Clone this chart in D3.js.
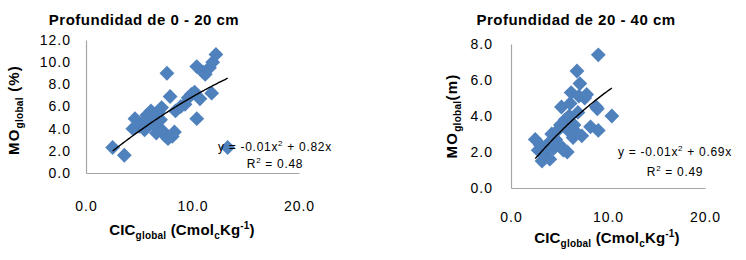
<!DOCTYPE html>
<html>
<head>
<meta charset="utf-8">
<script src="https://cdn.jsdelivr.net/npm/d3@7"></script>
<style>
  body { margin: 0; background: #fff; }
  svg { display: block; font-family: "Liberation Sans", Arial, sans-serif; }
</style>
</head>
<body>
<div id="chart"></div>
<script>
// data
var xTicks = [0, 10, 20];
var xTickLabels = ["0.0", "10.0", "20.0"];

// Profundidad de 0 - 20 cm
var cic0_20 = [2.5, 3.6, 4.4, 4.6, 5.0, 5.2, 5.5, 5.7, 5.9, 6.1, 6.3, 6.5, 6.6, 6.8, 7.0, 7.1, 7.2, 7.4, 7.6, 7.7,
               7.9, 8.1, 8.3, 8.4, 8.9, 9.3, 9.6, 9.9, 10.2, 10.4, 10.4, 10.7, 11.0, 11.2, 11.6, 11.8, 11.9, 12.2, 13.3];
var mo0_20  = [2.3, 1.6, 4.0, 4.9, 4.2, 4.4, 3.9, 5.2, 4.5, 5.6, 5.0, 4.2, 3.6, 5.5, 4.8, 5.9, 3.8, 3.4, 9.0, 3.1,
               6.9, 3.3, 3.7, 5.6, 6.0, 6.2, 6.8, 7.1, 7.3, 9.6, 4.9, 6.7, 9.1, 8.9, 9.5, 7.2, 10.0, 10.7, 2.3];
var yTicks0_20 = [0, 2, 4, 6, 8, 10, 12];
var trend0_20 = [-0.0134, 0.82, 0.015];   // a, b, c of the polynomial trendline

// Profundidad de 20 - 40 cm
var cic20_40 = [2.5, 2.8, 3.0, 3.2, 3.4, 3.6, 3.9, 4.0, 4.2, 4.4, 4.6, 4.8, 5.0, 5.1, 5.2, 5.4, 5.6, 5.8, 5.9, 6.0,
                6.1, 6.2, 6.4, 6.5, 6.7, 6.8, 6.9, 7.0, 7.1, 7.3, 7.6, 7.8, 8.2, 8.8, 8.9, 9.0, 9.0, 10.4];
var mo20_40  = [2.7, 2.1, 2.4, 1.5, 2.0, 1.8, 2.5, 1.6, 3.0, 2.2, 2.7, 3.2, 2.4, 3.5, 4.5, 2.1, 3.8, 2.0, 3.2, 4.0,
                4.7, 5.3, 2.8, 3.5, 3.1, 6.5, 4.2, 5.1, 5.8, 2.9, 5.0, 5.2, 3.4, 4.5, 4.4, 7.4, 3.2, 4.0];
var yTicks20_40 = [0, 2, 4, 6, 8];
var trend20_40 = [-0.015, 0.69, 0.0];

var panels = [
  { title: "Profundidad de 0 - 20 cm", cic: cic0_20, mo: mo0_20, yTicks: yTicks0_20, yMax: 12, trend: trend0_20,
    yUnit: " (%)", eq: ["-0.01x", "2", " + 0.82x"], r2: "0.48",
    xr: [86, 299], yr: [173, 40], titleX: 144, yTitleX: 19, yTitleY: 110, xTitleX: 182, xTitleY: 235,
    xPad: 28, yPad: 15, eqX: 275, eqY: 151, r2Y: 168 },
  { title: "Profundidad de 20 - 40 cm", cic: cic20_40, mo: mo20_40, yTicks: yTicks20_40, yMax: 8, trend: trend20_40,
    yUnit: "(m)", eq: ["-0.01x", "2", " + 0.69x"], r2: "0.49",
    xr: [511, 705], yr: [188, 44], titleX: 576, yTitleX: 457, yTitleY: 116, xTitleX: 607, xTitleY: 243,
    xPad: 24, yPad: 18, eqX: 675, eqY: 156, r2Y: 176 }
];

var svg = d3.select("#chart").append("svg")
    .attr("width", 746)
    .attr("height", 260);

panels.forEach(function(p) {
  var g = svg.append("g");
  var x = d3.scaleLinear().domain([0, 20]).range(p.xr);
  var y = d3.scaleLinear().domain([0, p.yMax]).range(p.yr);

  // title
  g.append("text")
      .attr("x", p.titleX).attr("y", 25)
      .attr("text-anchor", "middle")
      .style("font-size", "15px").style("font-weight", "bold").style("letter-spacing", "0.5px")
      .text(p.title);

  // axes
  var xAxis = g.append("g")
      .attr("transform", "translate(0," + p.yr[0] + ")")
      .call(d3.axisBottom(x).tickValues(xTicks).tickSize(0).tickPadding(p.xPad)
            .tickFormat(function(d, i) { return xTickLabels[i]; }));
  var yAxis = g.append("g")
      .attr("transform", "translate(" + p.xr[0] + ",0)")
      .call(d3.axisLeft(y).tickValues(p.yTicks).tickSize(0).tickPadding(p.yPad)
            .tickFormat(d3.format(".1f")));
  [xAxis, yAxis].forEach(function(a) {
    a.select(".domain").attr("stroke", "#a6a6a6").attr("stroke-width", 1.2);
    a.selectAll("text")
        .attr("fill", "#000")
        .style("font-family", "'Liberation Sans', Arial, sans-serif")
        .style("font-size", "14px").style("letter-spacing", "1px");
  });

  // points
  var pts = p.cic.map(function(c, i) { return [c, p.mo[i]]; });
  g.selectAll("path.pt")
    .data(pts)
    .enter()
      .append("path")
      .attr("class", "pt")
      .attr("d", d3.symbol(d3.symbolSquare, 110))
      .attr("transform", function(d) {
        return "translate(" + x(d[0]) + "," + y(d[1]) + ") rotate(45)";
      })
      .attr("fill", "#4f81bd");

  // trendline over the range of the points
  var co = p.trend;
  var ext = d3.extent(p.cic);
  var line = d3.line()
      .x(function(d) { return x(d); })
      .y(function(d) { return y(co[0] * d * d + co[1] * d + co[2]); });
  g.append("path")
      .datum(d3.range(ext[0], ext[1] + 0.001, 0.1))
      .attr("d", line)
      .attr("fill", "none")
      .attr("stroke", "#000")
      .attr("stroke-width", 1.4);

  // equation
  var eq = g.append("text")
      .attr("x", p.eqX).attr("y", p.eqY)
      .attr("text-anchor", "middle")
      .style("font-size", "12px").style("letter-spacing", "0.7px");
  eq.append("tspan").text("y = " + p.eq[0]);
  eq.append("tspan").attr("dy", -5).style("font-size", "8px").text(p.eq[1]);
  eq.append("tspan").attr("dy", 5).text(p.eq[2]);
  var r2 = g.append("text")
      .attr("x", p.eqX).attr("y", p.r2Y)
      .attr("text-anchor", "middle")
      .style("font-size", "12px").style("letter-spacing", "0.7px");
  r2.append("tspan").text("R");
  r2.append("tspan").attr("dy", -5).style("font-size", "8px").text("2");
  r2.append("tspan").attr("dy", 5).text(" = " + p.r2);

  // y title
  var yt = g.append("text")
      .attr("transform", "translate(" + p.yTitleX + "," + p.yTitleY + ") rotate(-90)")
      .attr("text-anchor", "middle")
      .style("font-size", "15px").style("font-weight", "bold").style("letter-spacing", "1.2px");
  yt.append("tspan").text("MO");
  yt.append("tspan").attr("dy", 4).style("font-size", "10px").style("letter-spacing", "0.3px").text("global");
  yt.append("tspan").attr("dy", -4).text(p.yUnit);

  // x title
  var xt = g.append("text")
      .attr("x", p.xTitleX).attr("y", p.xTitleY)
      .attr("text-anchor", "middle")
      .style("font-size", "15px").style("font-weight", "bold").style("letter-spacing", "0.2px");
  xt.append("tspan").text("CIC");
  xt.append("tspan").attr("dy", 4).style("font-size", "10px").text("global");
  xt.append("tspan").attr("dy", -4).text(" (Cmol");
  xt.append("tspan").attr("dy", 4).style("font-size", "10px").text("c");
  xt.append("tspan").attr("dy", -4).text("Kg");
  xt.append("tspan").attr("dy", -6).style("font-size", "10px").text("-1");
  xt.append("tspan").attr("dy", 6).text(")");
});
</script>
</body>
</html>
